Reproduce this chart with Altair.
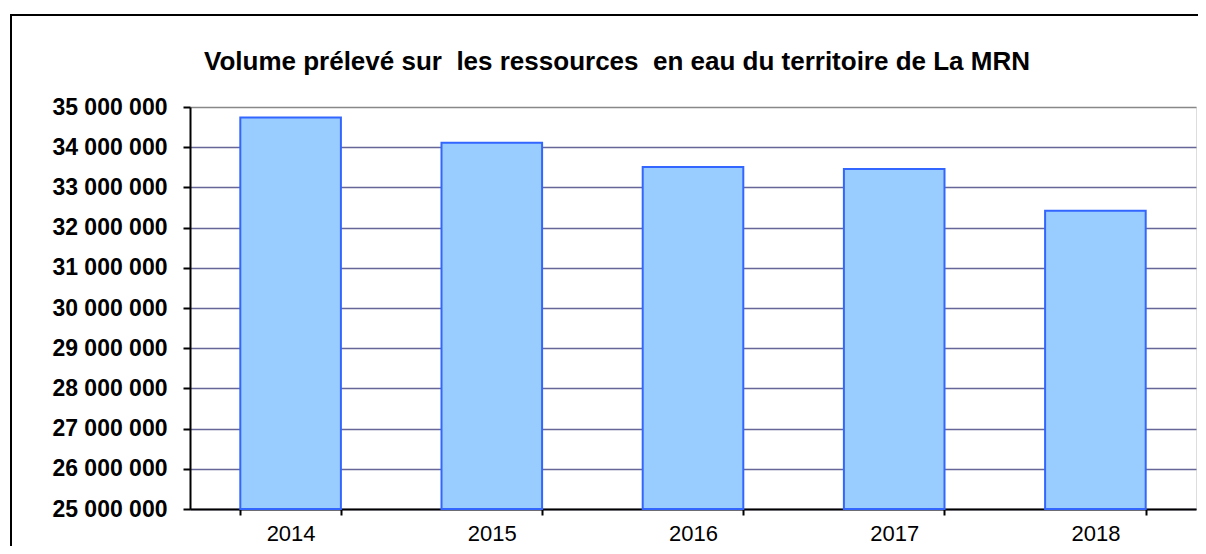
import altair as alt
import pandas as pd

years = ["2014", "2015", "2016", "2017", "2018"]
volumes = [34740000, 34110000, 33510000, 33460000, 32420000]
y_ticks = [25000000, 26000000, 27000000, 28000000, 29000000, 30000000,
           31000000, 32000000, 33000000, 34000000, 35000000]
title_text = "Volume prélevé sur\u00a0 les ressources\u00a0 en eau du territoire de La MRN"

df = pd.DataFrame({"year": years, "volume": volumes})

FONT = "Liberation Sans"

bars = alt.Chart(df).mark_bar(
    color="#99CCFF", stroke="#3366FF", strokeWidth=2
).encode(
    x=alt.X("year:N", sort=years,
            scale=alt.Scale(paddingInner=0.5, paddingOuter=0.25),
            axis=alt.Axis(title=None, labelAngle=0, tickBand="extent",
                          grid=False, domainColor="black", domainWidth=2,
                          tickColor="black", tickWidth=2, tickSize=6,
                          labelFont=FONT, labelFontSize=22, labelColor="black",
                          labelPadding=8)),
    y=alt.Y("volume:Q",
            scale=alt.Scale(domain=[25000000, 35000000], zero=False, nice=False),
            axis=alt.Axis(title=None, values=y_ticks,
                          labelExpr="replace(format(datum.value, ','), regexp(',', 'g'), ' ')",
                          labelFont=FONT, labelFontSize=23, labelFontWeight="bold",
                          labelColor="black", labelPadding=16,
                          domainColor="black", domainWidth=2,
                          tickColor="black", tickWidth=2, tickSize=7,
                          grid=True,
                          gridColor={"condition": {"test": "datum.value >= 35000000", "value": "#888888"},
                                     "value": "#666699"},
                          gridWidth=1.5)),
    y2=alt.datum(25000000),
)

frame_data = alt.Data(values=[{"k": 1}])
left_border = alt.Chart(frame_data).mark_rule(color="black", strokeWidth=2).encode(
    x=alt.value(-179), y=alt.value(-92), y2=alt.value(460))
top_border = alt.Chart(frame_data).mark_rule(color="black", strokeWidth=2).encode(
    x=alt.value(-180), x2=alt.value(1020), y=alt.value(-92))
title = alt.Chart(frame_data).mark_text(
    text=title_text, font=FONT, fontSize=26, fontWeight="bold", color="black",
    align="center", baseline="alphabetic"
).encode(x=alt.value(427), y=alt.value(-37))

chart = alt.layer(bars, left_border, top_border, title).properties(
    width=1006, height=402,
    padding={"left": 182, "top": 99, "right": 2, "bottom": 37},
    autosize=alt.AutoSizeParams(type="none"),
).configure_view(stroke="#888888", strokeWidth=2).configure(background="white")

chart.save("out.html", embed_options={"renderer": "svg", "actions": False})
